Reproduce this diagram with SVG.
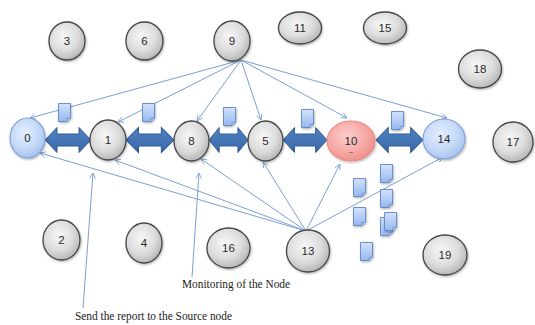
<svg xmlns="http://www.w3.org/2000/svg" width="535" height="325" viewBox="0 0 535 325">
  <defs>
    <radialGradient id="gGray" cx="42%" cy="38%" r="65%">
      <stop offset="0" stop-color="#f7f7f7"/>
      <stop offset="0.6" stop-color="#dcdcdc"/>
      <stop offset="1" stop-color="#b4b4b4"/>
    </radialGradient>
    <radialGradient id="gBlue" cx="42%" cy="38%" r="65%">
      <stop offset="0" stop-color="#e4eefd"/>
      <stop offset="0.6" stop-color="#c6daf8"/>
      <stop offset="1" stop-color="#a3c1ef"/>
    </radialGradient>
    <radialGradient id="gRed" cx="42%" cy="38%" r="65%">
      <stop offset="0" stop-color="#fcd0cd"/>
      <stop offset="0.6" stop-color="#f6aaa6"/>
      <stop offset="1" stop-color="#ee8e89"/>
    </radialGradient>
    <linearGradient id="gDoc" x1="0" y1="0" x2="0" y2="1">
      <stop offset="0" stop-color="#d3e2fb"/>
      <stop offset="1" stop-color="#95b8ef"/>
    </linearGradient>
    <linearGradient id="gArrow" x1="0" y1="0" x2="0" y2="1">
      <stop offset="0" stop-color="#4f82c2"/>
      <stop offset="1" stop-color="#3a68a8"/>
    </linearGradient>
    <filter id="shadow" x="-30%" y="-30%" width="160%" height="160%">
      <feDropShadow dx="0.8" dy="1.2" stdDeviation="1" flood-color="#000" flood-opacity="0.3"/>
    </filter>
    <marker id="head" viewBox="0 0 10 10" refX="9" refY="5" markerWidth="7" markerHeight="7" orient="auto" markerUnits="userSpaceOnUse">
      <path d="M1,1 L9,5 L1,9" fill="none" stroke="#7c9fd2" stroke-width="1.2"/>
    </marker>
    <!-- document icon with folded lower-right corner -->
    <symbol id="doc" overflow="visible">
      <path d="M0.5,0.5 H12.5 V15 L9,18.5 H0.5 Z" fill="url(#gDoc)" stroke="#5f86c8" stroke-width="0.9" filter="url(#shadow)"/>
      <path d="M12.5,15 L9,15.5 L9,18.5" fill="#a9c3ef" stroke="#5f86c8" stroke-width="0.7"/>
    </symbol>
    <!-- horizontal double-headed block arrow, 46 px long -->
    <path id="dbl" d="M0,0 L12,-12.5 L12,-6 L34,-6 L34,-12.5 L46,0 L34,12.5 L34,6 L12,6 L12,12.5 Z"/>
  </defs>
  <style>
    .gray { fill: url(#gGray); stroke: #454545; stroke-width: 1.3; filter: url(#shadow); }
    .blue { fill: url(#gBlue); stroke: #7f9fd4; stroke-width: 1.1; filter: url(#shadow); }
    .red { fill: url(#gRed); stroke: #e78d88; stroke-width: 1.1; filter: url(#shadow); }
    .lbl { font-family: "Liberation Sans", Arial, sans-serif; font-size: 11.5px; fill: #2a2a2a; text-anchor: middle; }
    .cap { font-family: "Liberation Serif", "Times New Roman", serif; font-size: 13.5px; fill: #222; }
    .con { stroke: #7c9fd2; stroke-width: 1; fill: none; marker-end: url(#head); }
    .blk { fill: url(#gArrow); stroke: #2f5b96; stroke-width: 1; }
  </style>

  <rect width="535" height="325" fill="#ffffff"/>

  <!-- links between the chain nodes -->
  <g id="links">
    <use href="#dbl" class="blk" transform="translate(45,140)"/>
    <use href="#dbl" class="blk" transform="translate(126,140) scale(1.04,1)"/>
    <use href="#dbl" class="blk" transform="translate(209,140) scale(0.85,1)"/>
    <use href="#dbl" class="blk" transform="translate(283,140) scale(0.96,1)"/>
    <use href="#dbl" class="blk" transform="translate(376,140) scale(1.02,1)"/>
  </g>

  <!-- connectors -->
  <g id="connectors">
    <line class="con" x1="241" y1="60" x2="30" y2="118"/>
    <line class="con" x1="241" y1="60" x2="118" y2="122"/>
    <line class="con" x1="241" y1="60" x2="197" y2="121"/>
    <line class="con" x1="241" y1="60" x2="261" y2="120"/>
    <line class="con" x1="241" y1="60" x2="347" y2="118"/>
    <line class="con" x1="241" y1="60" x2="447" y2="118"/>
    <line class="con" x1="306" y1="231" x2="40" y2="153"/>
    <line class="con" x1="306" y1="231" x2="115" y2="160"/>
    <line class="con" x1="306" y1="231" x2="201" y2="159"/>
    <line class="con" x1="306" y1="231" x2="263" y2="162"/>
    <line class="con" x1="306" y1="231" x2="340" y2="164"/>
    <line class="con" x1="306" y1="231" x2="443" y2="157"/>
    <line class="con" x1="83" y1="308" x2="93" y2="173"/>
    <line class="con" x1="192" y1="277" x2="199" y2="173"/>
  </g>

  <!-- packets -->
  <g id="packets">
    <use href="#doc" x="58" y="103"/>
    <use href="#doc" x="142" y="103"/>
    <use href="#doc" x="223" y="107"/>
    <use href="#doc" x="301" y="109"/>
    <use href="#doc" x="391" y="111"/>
    <use href="#doc" x="353" y="178"/>
    <use href="#doc" x="353" y="207"/>
    <use href="#doc" x="380" y="164"/>
    <use href="#doc" x="380" y="189"/>
    <use href="#doc" x="380" y="217"/>
    <use href="#doc" x="384" y="212"/>
    <use href="#doc" x="360" y="242"/>
  </g>

  <!-- nodes -->
  <g id="node-0"><ellipse class="blue" cx="27.5" cy="138" rx="17.5" ry="20"/><text class="lbl" x="27.5" y="142">0</text></g>
  <g id="node-1"><ellipse class="gray" cx="108" cy="140" rx="18" ry="20"/><text class="lbl" x="108" y="144">1</text></g>
  <g id="node-8"><ellipse class="gray" cx="191.5" cy="141" rx="17.5" ry="20"/><text class="lbl" x="191.5" y="145">8</text></g>
  <g id="node-5"><ellipse class="gray" cx="265.5" cy="141" rx="17.5" ry="20"/><text class="lbl" x="265.5" y="145">5</text></g>
  <g id="node-10"><ellipse class="red" cx="351" cy="141" rx="24" ry="20"/><text class="lbl" x="351" y="145">10</text><line x1="349" y1="152.5" x2="353" y2="152.5" stroke="#8a5a58" stroke-width="0.8"/></g>
  <g id="node-14"><ellipse class="blue" cx="444" cy="139" rx="21" ry="20"/><text class="lbl" x="444" y="143">14</text></g>
  <g id="node-17"><ellipse class="gray" cx="513" cy="142" rx="20" ry="20"/><text class="lbl" x="513" y="146">17</text></g>
  <g id="node-3"><ellipse class="gray" cx="67" cy="41" rx="18" ry="19"/><text class="lbl" x="67" y="45">3</text></g>
  <g id="node-6"><ellipse class="gray" cx="144.5" cy="41" rx="18.5" ry="19"/><text class="lbl" x="144.5" y="45">6</text></g>
  <g id="node-9"><ellipse class="gray" cx="232" cy="41" rx="18" ry="20"/><text class="lbl" x="232" y="45">9</text></g>
  <g id="node-11"><ellipse class="gray" cx="300" cy="28" rx="21.5" ry="16"/><text class="lbl" x="300" y="32">11</text></g>
  <g id="node-15"><ellipse class="gray" cx="385" cy="28" rx="21.5" ry="16"/><text class="lbl" x="385" y="32">15</text></g>
  <g id="node-18"><ellipse class="gray" cx="480" cy="69" rx="21.5" ry="19"/><text class="lbl" x="480" y="73">18</text></g>
  <g id="node-2"><ellipse class="gray" cx="61.5" cy="240" rx="18.5" ry="20"/><text class="lbl" x="61.5" y="244">2</text></g>
  <g id="node-4"><ellipse class="gray" cx="144" cy="243" rx="18" ry="20"/><text class="lbl" x="144" y="247">4</text></g>
  <g id="node-16"><ellipse class="gray" cx="228.5" cy="248" rx="21.5" ry="20"/><text class="lbl" x="228.5" y="252">16</text></g>
  <g id="node-13"><ellipse class="gray" cx="308" cy="251" rx="21.5" ry="21"/><text class="lbl" x="308" y="255">13</text></g>
  <g id="node-19"><ellipse class="gray" cx="445" cy="255" rx="22" ry="20"/><text class="lbl" x="445" y="259">19</text></g>

  <!-- captions -->
  <g id="captions">
    <text class="cap" x="182" y="288" textLength="108" lengthAdjust="spacingAndGlyphs">Monitoring of the Node</text>
    <text class="cap" x="75" y="320" textLength="157" lengthAdjust="spacingAndGlyphs">Send the report to the Source node</text>
  </g>
</svg>
